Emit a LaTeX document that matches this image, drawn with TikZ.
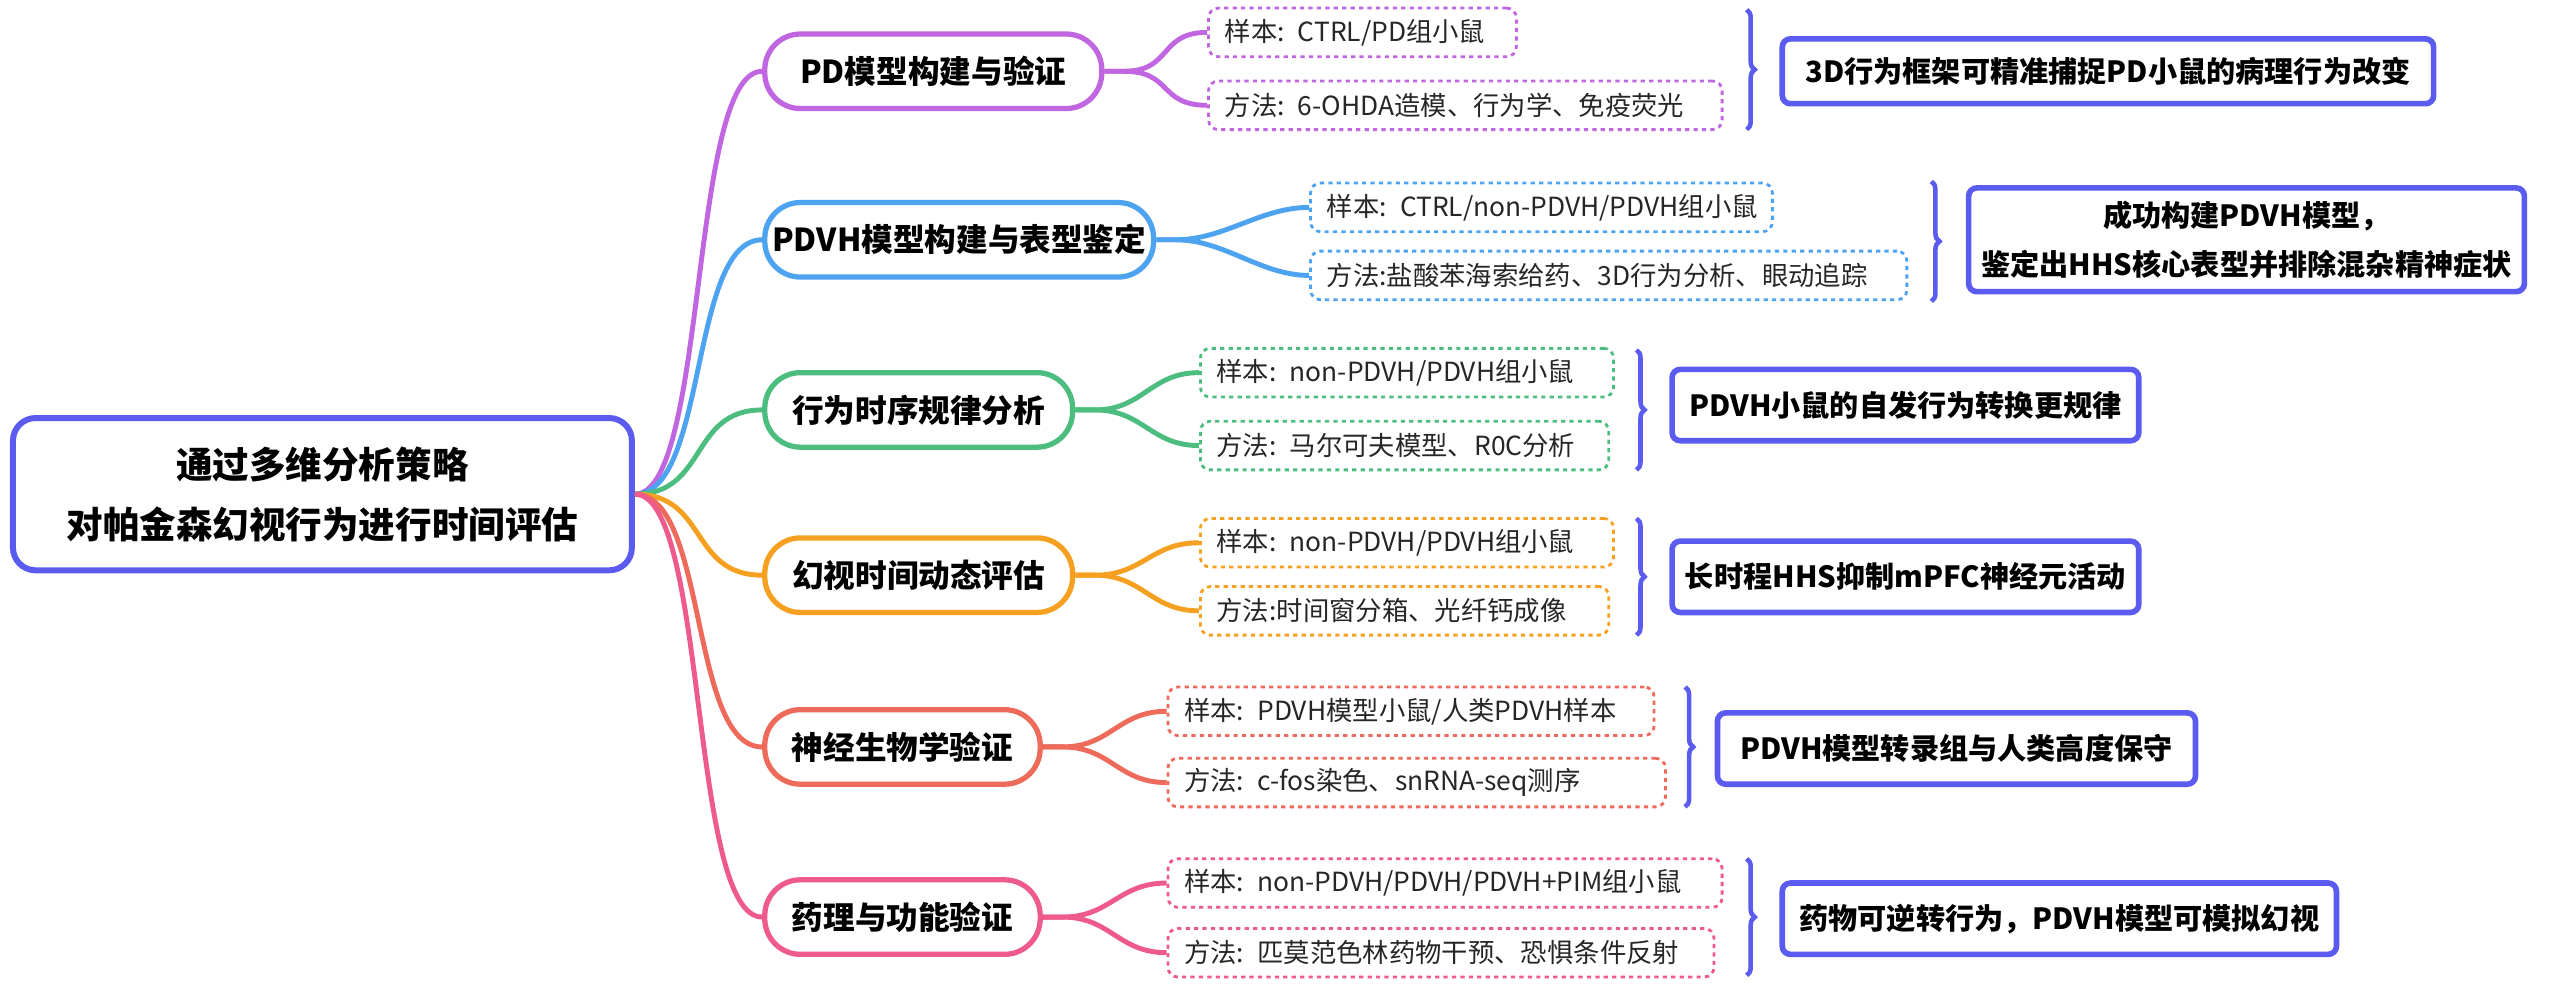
\documentclass[tikz,border=0pt]{standalone}
\usepackage{fontspec}
\setmainfont{Noto Sans CJK SC}
\usetikzlibrary{decorations.pathreplacing}
\newdimen\pu \pu=0.0162cm
\definecolor{cP}{HTML}{C066E0}
\definecolor{cB}{HTML}{4DA3F0}
\definecolor{cG}{HTML}{4DBD7F}
\definecolor{cO}{HTML}{F5A020}
\definecolor{cR}{HTML}{EE6A5A}
\definecolor{cK}{HTML}{EE5A8C}
\definecolor{cM}{HTML}{5B5BF0}
\begin{document}
\begin{tikzpicture}[x=0.0162cm,y=-0.0162cm,
 root/.style={draw=cM,line width=1.7pt,rounded corners=14\pu,minimum width=382\pu,minimum height=94\pu,align=center,font=\fontsize{10.4}{17}\selectfont\bfseries,inner sep=0pt},
 l1/.style={draw=#1,line width=1.5pt,rounded corners=22\pu,minimum height=46\pu,font=\fontsize{9}{11}\selectfont\bfseries,inner sep=0pt},
 sub/.style 2 args={draw=#1,line width=0.8pt,dash pattern=on 1.2pt off 1.2pt,rounded corners=6\pu,minimum height=30\pu,anchor=west,font=\fontsize{7.5}{9}\selectfont,inner ysep=0pt,inner xsep=10\pu,text width=(#2-20)*\pu,align=left,text=black!85,execute at begin node=\hbox\bgroup,execute at end node=\egroup},
 res/.style={draw=cM,line width=1.6pt,rounded corners=5\pu,align=center,font=\fontsize{8.3}{14}\selectfont\bfseries,inner sep=0pt},
 con/.style={draw=#1,line width=1.4pt},
 br/.style={draw=cM,line width=1.3pt,decorate,decoration={brace,amplitude=5\pu}}]
\useasboundingbox (0,0) rectangle (1580,614.7);
\node[root] (root) at (199,305) {通过多维分析策略\\对帕金森幻视行为进行时间评估};
% level 1
\node[l1=cP,minimum width=208\pu] (b1) at (576,44) {PD模型构建与验证};
\node[l1=cB,minimum width=240\pu] (b2) at (592,148) {PDVH模型构建与表型鉴定};
\node[l1=cG,minimum width=190\pu] (b3) at (567,253) {行为时序规律分析};
\node[l1=cO,minimum width=190\pu] (b4) at (567,355) {幻视时间动态评估};
\node[l1=cR,minimum width=170\pu] (b5) at (557,461) {神经生物学验证};
\node[l1=cK,minimum width=170\pu] (b6) at (557,566) {药理与功能验证};
% subs
\node[sub={cP}{190}] (s1a) at (745,20) {样本: CTRL/PD组小鼠};
\node[sub={cP}{317}] (s1b) at (745,65) {方法: 6-OHDA造模、行为学、免疫荧光};
\node[sub={cB}{285}] (s2a) at (808,128) {样本: CTRL/non-PDVH/PDVH组小鼠};
\node[sub={cB}{368}] (s2b) at (808,170) {方法:盐酸苯海索给药、3D行为分析、眼动追踪};
\node[sub={cG}{255}] (s3a) at (740,230) {样本: non-PDVH/PDVH组小鼠};
\node[sub={cG}{252}] (s3b) at (740,275) {方法: 马尔可夫模型、R0C分析};
\node[sub={cO}{255}] (s4a) at (740,335) {样本: non-PDVH/PDVH组小鼠};
\node[sub={cO}{252}] (s4b) at (740,377) {方法:时间窗分箱、光纤钙成像};
\node[sub={cR}{300}] (s5a) at (720,439) {样本: PDVH模型小鼠/人类PDVH样本};
\node[sub={cR}{307}] (s5b) at (720,483) {方法: c-fos染色、snRNA-seq测序};
\node[sub={cK}{342}] (s6a) at (720,545) {样本: non-PDVH/PDVH/PDVH+PIM组小鼠};
\node[sub={cK}{337}] (s6b) at (720,588) {方法: 匹莫范色林药物干预、恐惧条件反射};
% results
\node[res,minimum width=402\pu,minimum height=40\pu] (r1) at (1301,44) {3D行为框架可精准捕捉PD小鼠的病理行为改变};
\node[res,minimum width=343\pu,minimum height=64\pu] (r2) at (1386.5,148) {成功构建PDVH模型，\\鉴定出HHS核心表型并排除混杂精神症状};
\node[res,minimum width=288\pu,minimum height=44\pu] (r3) at (1176,250) {PDVH小鼠的自发行为转换更规律};
\node[res,minimum width=288\pu,minimum height=44\pu] (r4) at (1176,356) {长时程HHS抑制mPFC神经元活动};
\node[res,minimum width=295\pu,minimum height=44\pu] (r5) at (1207.5,462) {PDVH模型转录组与人类高度保守};
\node[res,minimum width=342\pu,minimum height=44\pu] (r6) at (1271,567) {药物可逆转行为，PDVH模型可模拟幻视};
% root connectors
\foreach \b/\c in {b1/cP,b2/cB,b3/cG,b4/cO,b5/cR,b6/cK}
  \draw[con=\c] (root.east) .. controls +(45,0) and +(-45,0) .. (\b.west);
% sub connectors
\foreach \b/\s/\c in {b1/s1a/cP,b1/s1b/cP,b2/s2a/cB,b2/s2b/cB,b3/s3a/cG,b3/s3b/cG,b4/s4a/cO,b4/s4b/cO,b5/s5a/cR,b5/s5b/cR,b6/s6a/cK,b6/s6b/cK}
  \draw[con=\c] (\b.east) -- +(12,0) .. controls +(30,0) and +(-30,0) .. (\s.west);
% braces
\coordinate (t1) at (1078,6);   \coordinate (u1) at (1078,80);
\coordinate (t2) at (1192,112); \coordinate (u2) at (1192,186);
\coordinate (t3) at (1010,216); \coordinate (u3) at (1010,290);
\coordinate (t4) at (1010,320); \coordinate (u4) at (1010,392);
\coordinate (t5) at (1040,424); \coordinate (u5) at (1040,498);
\coordinate (t6) at (1078,530); \coordinate (u6) at (1078,602);
\foreach \i in {1,...,6} \draw[br] (t\i) -- (u\i);
\end{tikzpicture}
\end{document}
